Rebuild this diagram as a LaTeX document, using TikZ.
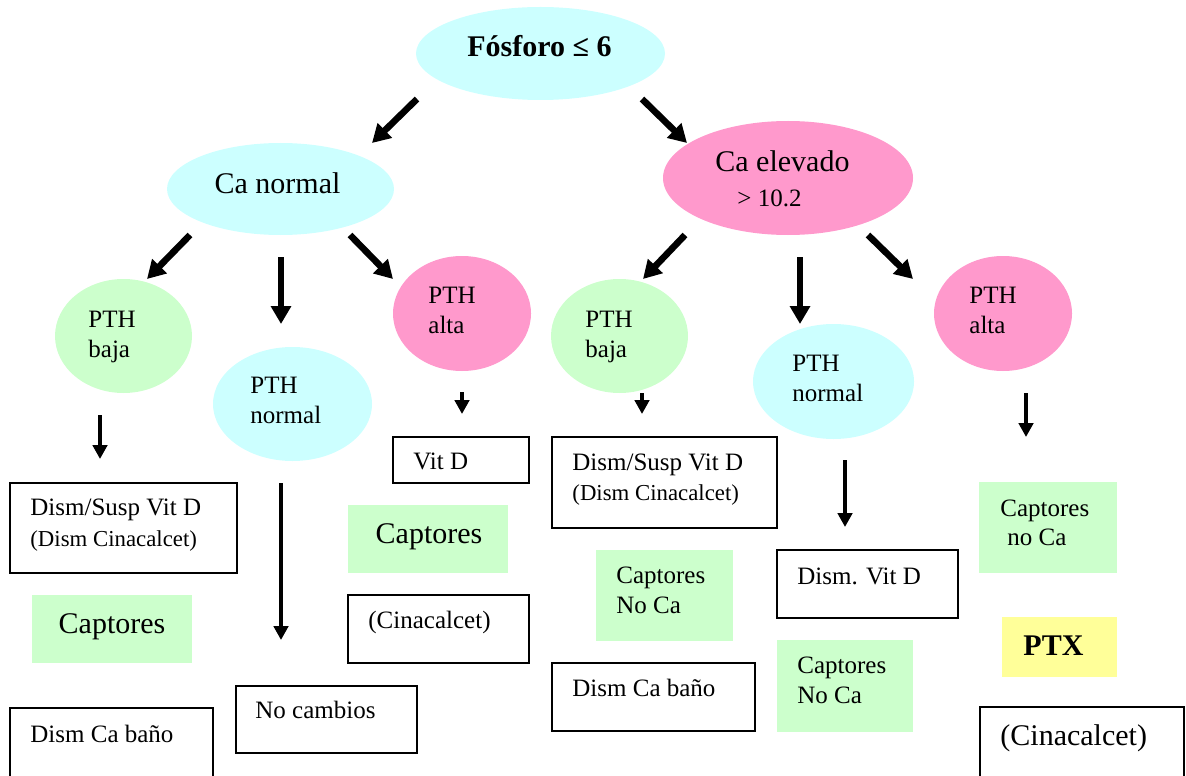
\documentclass[tikz,border=0pt]{standalone}
\usepackage{fontspec}
\setmainfont{Liberation Serif}
\usetikzlibrary{shapes.geometric,arrows.meta,fit}
\definecolor{cyanfill}{HTML}{CCFFFF}
\definecolor{pinkfill}{HTML}{FF99CC}
\definecolor{greenfill}{HTML}{CCFFCC}
\definecolor{yellowfill}{HTML}{FFFF99}

\begin{document}
\begin{tikzpicture}[x=0.5pt,y=-0.5pt,
  oval/.style={ellipse, draw=none, inner sep=0pt},
  outbox/.style={draw=black, line width=1pt, fill=white, inner sep=0pt},
  tagbox/.style={fill=greenfill, draw=none, inner sep=0pt},
  ptxbox/.style={fill=yellowfill, draw=none, inner sep=0pt},
  txt/.style={inner sep=0pt, anchor=base west, font=\fontsize{12.5}{15}\selectfont},
  bigtxt/.style={inner sep=0pt, anchor=base west, font=\fontsize{15}{18}\selectfont},
  smalltxt/.style={inner sep=0pt, anchor=base west, font=\fontsize{11.4}{14}\selectfont},
  thick arrow/.style={line width=3.3pt, -{Triangle[length=9pt,width=9.8pt]}},
  thin arrow/.style={line width=1.9pt, -{Triangle[length=7pt,width=7.2pt]}},
]
\useasboundingbox (0,0) rectangle (1186,775);
\clip (0,0) rectangle (1186,775);

% ---- decision ovals ----
\node[oval, fill=cyanfill, minimum width=124.5pt, minimum height=46.5pt] (fos) at (540.5,53.5) {};
\node[oval, fill=cyanfill, minimum width=113.5pt, minimum height=46pt]   (can) at (280.5,189) {};
\node[oval, fill=pinkfill, minimum width=125pt,   minimum height=57pt]   (cae) at (788,178) {};
\node[oval, fill=greenfill, minimum width=68.5pt, minimum height=57pt]   (pbl) at (123.5,336) {};
\node[oval, fill=cyanfill,  minimum width=79.5pt, minimum height=57pt]   (pnl) at (292.5,404) {};
\node[oval, fill=pinkfill,  minimum width=69pt,   minimum height=57.5pt] (pal) at (462,313.5) {};
\node[oval, fill=greenfill, minimum width=68.5pt, minimum height=57pt]   (pbr) at (619.5,336) {};
\node[oval, fill=cyanfill,  minimum width=80.5pt, minimum height=57.5pt] (pnr) at (833.5,381.5) {};
\node[oval, fill=pinkfill,  minimum width=69pt,   minimum height=57.5pt] (par) at (1003,313.5) {};

\node[inner sep=0pt, anchor=base, font=\fontsize{15}{18}\selectfont\bfseries] (fost) at (539.5,57) {Fósforo ≤ 6};
\node[inner sep=0pt, anchor=base, font=\fontsize{15}{18}\selectfont] (cant) at (277.5,193) {Ca normal};
\node[bigtxt] (caet1) at (715,172) {Ca elevado};
\node[txt] (caet2) at (737,206) {> 10.2};

\node[txt] (pblt1) at (88,327) {PTH};
\node[txt] (pblt2) at (88,357) {baja};
\node[txt] (pnlt1) at (250,393) {PTH};
\node[txt] (pnlt2) at (250,423) {normal};
\node[txt] (palt1) at (428,303) {PTH};
\node[txt] (palt2) at (428,333) {alta};
\node[txt] (pbrt1) at (585,327) {PTH};
\node[txt] (pbrt2) at (585,357) {baja};
\node[txt] (pnrt1) at (792,371) {PTH};
\node[txt] (pnrt2) at (792,401) {normal};
\node[txt] (part1) at (969,303) {PTH};
\node[txt] (part2) at (969,333) {alta};

% ---- outcome boxes, left branch ----
\node[outbox, fit={(10,483) (237,573)}] (l1) {};
\node[txt] (l1t1) at (30,515) {Dism/Susp Vit D};
\node[smalltxt] (l1t2) at (30,546) {(Dism Cinacalcet)};
\node[tagbox, fit={(32,595) (192,663)}] (l2) {};
\node[inner sep=0pt, anchor=base, font=\fontsize{15}{18}\selectfont] (l2t) at (112,633) {Captores};
\node[outbox, fit={(10,708) (213,800)}] (l3) {};
\node[txt] (l3t) at (30,742) {Dism Ca baño};

\node[outbox, fit={(236,686) (417,753)}] (m1) {};
\node[txt] (m1t) at (255,718) {No cambios};

\node[outbox, fit={(393,437) (529,483)}] (h1) {};
\node[txt] (h1t) at (413,469) {Vit D};
\node[tagbox, fit={(348,505) (508,573)}] (h2) {};
\node[inner sep=0pt, anchor=base, font=\fontsize{15}{18}\selectfont] (h2t) at (429,543) {Captores};
\node[outbox, fit={(348,595) (529,663)}] (h3) {};
\node[txt] (h3t) at (368,628) {(Cinacalcet)};

% ---- outcome boxes, right branch ----
\node[outbox, fit={(552,437) (777,528)}] (r1) {};
\node[txt] (r1t1) at (572,470) {Dism/Susp Vit D};
\node[smalltxt] (r1t2) at (572,500) {(Dism Cinacalcet)};
\node[tagbox, fit={(596,550) (733,641)}] (r2) {};
\node[txt] (r2t1) at (616,583) {Captores};
\node[txt] (r2t2) at (616,613) {No Ca};
\node[outbox, fit={(552,663) (755,731)}] (r3) {};
\node[txt] (r3t) at (572,696) {Dism Ca baño};

\node[outbox, fit={(777,550) (958,618)}] (s1) {};
\node[txt] (s1t) at (797,584) {Dism. Vit D};
\node[tagbox, fit={(777,640) (913,732)}] (s2) {};
\node[txt] (s2t1) at (797,673) {Captores};
\node[txt] (s2t2) at (797,703) {No Ca};

\node[tagbox, fit={(979,482) (1117,573)}] (e1) {};
\node[txt] (e1t1) at (1000,516) {Captores};
\node[txt] (e1t2) at (1007,545) {no Ca};
\node[ptxbox, fit={(1002,617) (1117,677)}] (e2) {};
\node[inner sep=0pt, anchor=base west, font=\fontsize{15}{18}\selectfont\bfseries] (e2t) at (1023,655) {PTX};
\node[outbox, fit={(980,707) (1184,800)}] (e3) {};
\node[bigtxt] (e3t) at (1000,745) {(Cinacalcet)};

% ---- arrow end points ----
\coordinate (a1s) at (417,99);   \coordinate (a1e) at (372,143);
\coordinate (a2s) at (642,99);   \coordinate (a2e) at (687,143);
\coordinate (b1s) at (190,235);  \coordinate (b1e) at (147,279);
\coordinate (b2s) at (281,257);  \coordinate (b2e) at (281,324);
\coordinate (b3s) at (350,235);  \coordinate (b3e) at (393,279);
\coordinate (c1s) at (685,235);  \coordinate (c1e) at (643,279);
\coordinate (c2s) at (800,257);  \coordinate (c2e) at (800,324);
\coordinate (c3s) at (868,235);  \coordinate (c3e) at (913,279);
\coordinate (d1s) at (100,415);  \coordinate (d1e) at (100,459);
\coordinate (d2s) at (281,483);  \coordinate (d2e) at (281,640);
\coordinate (d3s) at (462,392);  \coordinate (d3e) at (462,414);
\coordinate (d4s) at (642,393);  \coordinate (d4e) at (642,414);
\coordinate (d5s) at (845,460);  \coordinate (d5e) at (845,527);
\coordinate (d6s) at (1026,393); \coordinate (d6e) at (1026,437);

\draw[thick arrow] (a1s) -- (a1e);
\draw[thick arrow] (a2s) -- (a2e);
\draw[thick arrow] (b1s) -- (b1e);
\draw[thick arrow] (b2s) -- (b2e);
\draw[thick arrow] (b3s) -- (b3e);
\draw[thick arrow] (c1s) -- (c1e);
\draw[thick arrow] (c2s) -- (c2e);
\draw[thick arrow] (c3s) -- (c3e);
\draw[thin arrow] (d1s) -- (d1e);
\draw[thin arrow] (d2s) -- (d2e);
\draw[thin arrow] (d3s) -- (d3e);
\draw[thin arrow] (d4s) -- (d4e);
\draw[thin arrow] (d5s) -- (d5e);
\draw[thin arrow] (d6s) -- (d6e);
\end{tikzpicture}
\end{document}
